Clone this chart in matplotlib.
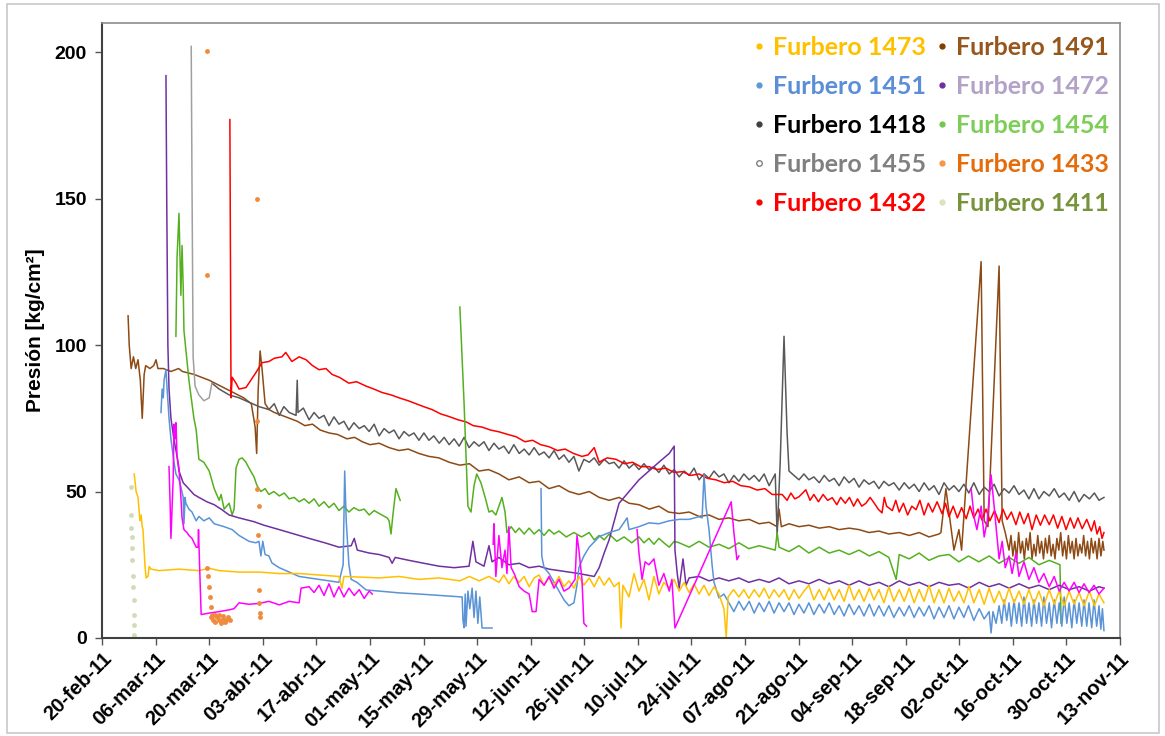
import numpy as np
import matplotlib.pyplot as plt
import matplotlib.dates as mdates
from matplotlib.lines import Line2D
from matplotlib.patches import Rectangle
from datetime import datetime

# ---- data: (days after 20-feb-2011, pressure kg/cm2) ----
start = datetime(2011, 2, 20)

tick_days = list(range(0, 267, 14))
tick_labels = ["20-feb-11", "06-mar-11", "20-mar-11", "03-abr-11", "17-abr-11",
               "01-may-11", "15-may-11", "29-may-11", "12-jun-11", "26-jun-11",
               "10-jul-11", "24-jul-11", "07-ago-11", "21-ago-11", "04-sep-11",
               "18-sep-11", "02-oct-11", "16-oct-11", "30-oct-11", "13-nov-11"]

s1491 = [(6.8, 110), (7.1, 100), (7.6, 92), (8.2, 96), (8.8, 92), (9.4, 95), (10.0, 88),
         (10.5, 75), (11.0, 90), (11.4, 93), (12.5, 92), (13.5, 93), (14.1, 95), (14.6, 92),
         (16, 92), (18, 91), (20, 92), (21, 91), (24, 90), (28, 88), (31, 86), (34, 84),
         (37, 82), (39, 80), (40.0, 72), (40.4, 63), (40.8, 85), (41.3, 98), (41.8, 92),
         (42.6, 80), (43.6, 78), (45, 77), (47, 76), (49, 75), (51, 74), (53, 72.5), (55, 73),
         (57, 71), (59.3, 70), (61.5, 69.5), (64, 68), (66, 68.5), (68, 67), (70, 66),
         (72.4, 66.5), (75, 65), (77.6, 64), (80, 64.5), (82.8, 63), (85.4, 62), (88, 61.5),
         (90.7, 60), (93.5, 59), (96, 59.5), (98.5, 57), (101, 57.5), (103.7, 56), (106.3, 54),
         (109, 55), (111.6, 53), (114.2, 53.5), (116.8, 51), (119.4, 52), (122, 50),
         (124.6, 49), (127.3, 50), (129.9, 48), (132.5, 47), (135.1, 48), (137.7, 46),
         (140.3, 45.5), (143, 44), (145.5, 45), (148, 43), (150.8, 42.5), (153.4, 43),
         (156, 41.5), (158.6, 42), (161.2, 40.5), (163.8, 41), (166.4, 40), (169.1, 40.5),
         (171.7, 39), (174.3, 39.5), (176.4, 38), (176.9, 44), (177.5, 38), (179.5, 39),
         (182.1, 38), (184.7, 38.5), (187.4, 37.5), (190, 38), (192.6, 37), (195.2, 37.5),
         (197.8, 37), (200.4, 36), (203, 36.5), (205.6, 35.5), (208.3, 36), (210.9, 35),
         (213.5, 36), (216.1, 34.5), (218.7, 35.5), (219.2, 36), (220.5, 51), (222.6, 30),
         (223.9, 37), (224.6, 30), (229.7, 128.5), (230.5, 40), (231.5, 38), (234.4, 127),
         (235.2, 40), (236, 36), (237.0, 30), (237.5, 35), (238.0, 28), (238.5, 33),
         (239.0, 27), (239.5, 36), (240.0, 29), (240.5, 33), (241.0, 27), (241.5, 34),
         (242.0, 30), (242.5, 36), (243.0, 27), (243.5, 32), (244.0, 28), (244.5, 35),
         (245.0, 29), (245.5, 33), (246.0, 27), (246.5, 34), (247.0, 29), (247.5, 35),
         (248.0, 28), (248.5, 32), (249.0, 27), (249.5, 34), (250.0, 30), (250.5, 36),
         (251.0, 28), (251.5, 33), (252.0, 27), (252.5, 35), (253.0, 29), (253.5, 33),
         (254.0, 27), (254.5, 34), (255.0, 28), (255.5, 32), (256.0, 29), (256.5, 35),
         (257.0, 28), (257.5, 33), (258.0, 27), (258.5, 34), (259.0, 29), (259.5, 33),
         (260.0, 27), (260.5, 34), (261.0, 28), (261.5, 33), (261.8, 30)]

s1432 = [(33.4, 177), (33.7, 82), (34.0, 89), (35.0, 87), (35.8, 85), (37.6, 85.5),
         (40.2, 90.6), (41.8, 94), (43.6, 94.4), (45.0, 95.5), (47.0, 96), (48.0, 97.5),
         (49.6, 94.4), (51.5, 96), (53.3, 95), (55.0, 93), (56.7, 91.6), (58.5, 92),
         (60.1, 90), (62.0, 89), (64.5, 87), (66.5, 87.5), (69.0, 86), (71.0, 85),
         (73.2, 83.8), (75.5, 83), (77.6, 82), (80.0, 81), (82.0, 80), (84.0, 79),
         (86.2, 78), (88.5, 76.5), (90.7, 75.6), (93.0, 74.5), (95.1, 73.8), (97.0, 72.5),
         (99.3, 72), (101.5, 71), (103.7, 70.4), (106.0, 69.5), (108.2, 68.7), (110.5, 67),
         (112.5, 67.5), (114.6, 66), (116.8, 65.3), (119.0, 64), (121.0, 64.5), (123.2, 63),
         (125.4, 62), (127.0, 62.5), (128.6, 65), (129.9, 60), (132.0, 61.5), (134.3, 61),
         (136.5, 59.5), (138.6, 60), (140.7, 58.5), (142.9, 58.5), (145.0, 57.5),
         (147.3, 58), (149.5, 56.5), (151.6, 56.8), (153.8, 55.5), (156.0, 56),
         (158.2, 54.5), (160.4, 54), (162.6, 53), (164.8, 53.5), (166.9, 52), (169.1, 51.6),
         (171.2, 50.5), (173.2, 51), (175.1, 49), (177.7, 49), (179.0, 47), (180.0, 49.5),
         (181.0, 47.5), (182.1, 48.2), (183.9, 50.6), (185.0, 47), (186.0, 49), (187.2, 46.5),
         (188.4, 49), (189.6, 47), (190.8, 47.9), (192.0, 45.5), (193.0, 48), (194.2, 46),
         (195.3, 48), (196.4, 45), (197.4, 47.5), (198.5, 45), (199.6, 46), (200.7, 48),
         (201.8, 46), (202.8, 44), (203.8, 42.7), (204.4, 48), (205.0, 45), (206.5, 43.5),
         (207.4, 47), (208.3, 43), (209.4, 46), (210.5, 42), (211.6, 45), (212.7, 43.8),
         (213.7, 47), (214.8, 42), (215.9, 46), (217.0, 43), (218.2, 46.5), (219.5, 42.4),
         (220.4, 46), (221.3, 41.4), (222.4, 45), (223.5, 41), (224.6, 44.5), (225.8, 40.7),
         (226.8, 45), (227.8, 41), (228.9, 44), (229.9, 40.3), (231.0, 44), (232.0, 40),
         (233.2, 43.5), (234.4, 39.4), (235.4, 44), (236.5, 40.5), (237.6, 43), (238.8, 38.7),
         (239.8, 43), (240.9, 39), (242.0, 42.5), (243.0, 37), (244.1, 42), (245.2, 38.5),
         (246.3, 42), (247.5, 38.7), (248.6, 42), (249.7, 37.5), (250.8, 41.5), (251.9, 37),
         (253.0, 41), (254.0, 37.5), (255.0, 41), (256.1, 37.3), (257.3, 40.5), (258.5, 36.5),
         (259.3, 40), (260.0, 35.5), (260.7, 38), (261.3, 34), (261.8, 36)]

s1418 = [(28.7, 87), (30.6, 85), (33.2, 83), (35.8, 82), (38.4, 80.5), (41.0, 79),
         (43.6, 78), (45.0, 80), (46.3, 76), (47.5, 79), (48.9, 77), (50.7, 76), (51.0, 88),
         (51.2, 77), (52.6, 78.5), (54.1, 74.5), (55.4, 77), (56.7, 75), (58.0, 76),
         (59.3, 72.5), (60.6, 75.5), (61.9, 73), (63.2, 74), (64.5, 71), (65.8, 73.5),
         (67.2, 71.5), (68.5, 72.5), (69.8, 70.5), (71.1, 73), (72.4, 69), (73.7, 71.5),
         (75.0, 70), (76.3, 71), (77.6, 68), (78.9, 70.5), (80.2, 69), (81.5, 70),
         (82.8, 67.5), (84.1, 70), (85.4, 67.5), (86.7, 69), (88.1, 66.5), (89.4, 68.5),
         (90.7, 66), (92.0, 68), (93.3, 65.5), (94.6, 68.5), (95.9, 65), (97.2, 67),
         (98.5, 65.5), (99.8, 67), (101.1, 64), (102.4, 66.5), (103.7, 64.5), (105.0, 65.5),
         (106.3, 63), (107.6, 66), (109.0, 63), (110.3, 64.5), (111.6, 62.5), (112.9, 65),
         (114.2, 62.5), (115.5, 63.5), (116.8, 61.5), (118.1, 64), (119.4, 61), (120.7, 62.5),
         (122.0, 60), (123.3, 62), (124.6, 57), (125.9, 61), (127.3, 60), (128.6, 61.5),
         (129.9, 59), (131.2, 61), (132.5, 59.5), (133.8, 60), (135.1, 58), (136.4, 60.5),
         (137.7, 58), (139.0, 59.5), (140.3, 57.5), (141.6, 59.5), (142.9, 57.5), (144.2, 58.5),
         (145.5, 56.5), (146.8, 59), (148.2, 56), (149.5, 57.5), (150.8, 55), (152.1, 57),
         (153.4, 55.5), (154.7, 58), (156.0, 54), (157.3, 56), (158.6, 54.5), (159.9, 57),
         (161.2, 55), (162.5, 56), (163.8, 53), (165.1, 55.5), (166.4, 53.5), (167.7, 56),
         (169.1, 54), (170.4, 55.5), (171.7, 53.5), (173.0, 56), (174.3, 52), (175.9, 56),
         (176.4, 35), (177.2, 60), (178.2, 103), (179.0, 70), (179.5, 57), (180.8, 55.5),
         (182.1, 54), (183.4, 56), (184.7, 54), (186.0, 55), (187.4, 53), (188.7, 55.5),
         (190.0, 53.5), (191.3, 54.5), (192.6, 52), (193.9, 55), (195.2, 53), (196.5, 54.5),
         (197.8, 51.5), (199.1, 54), (200.4, 52.5), (201.7, 53.5), (203.0, 51), (204.3, 53.5),
         (205.6, 52), (206.9, 53), (208.3, 50.5), (209.6, 53), (210.9, 51), (212.2, 52.5),
         (213.5, 50), (214.8, 53), (216.1, 50.5), (217.4, 52), (218.7, 49), (220.0, 53),
         (221.3, 50.5), (222.6, 52), (223.9, 50), (225.2, 52.5), (226.5, 49.5), (227.8, 53),
         (229.2, 49), (230.5, 51.5), (231.8, 50), (233.1, 52.5), (234.4, 48.5), (235.7, 51),
         (237.0, 49.5), (238.3, 52), (239.6, 49), (240.9, 50.5), (242.2, 47.5), (243.5, 51),
         (244.8, 47.5), (246.1, 50), (247.5, 48.5), (248.8, 51), (250.1, 48), (251.4, 49.5),
         (252.7, 47), (254.0, 50), (255.3, 46.5), (256.6, 49), (258.0, 47.5), (259.3, 49.5),
         (260.5, 47), (261.8, 48)]

s1455 = [(23.3, 202), (23.5, 156), (23.8, 96), (24.3, 86), (25.3, 83), (26.6, 81),
         (28.0, 82), (28.7, 87)]

s1454 = [(19.3, 103), (19.6, 130), (20.1, 145), (20.4, 128), (20.6, 117), (20.9, 134),
         (21.2, 120), (21.4, 105), (22.7, 88), (24.0, 75), (24.6, 71), (25.3, 61),
         (26.6, 60), (28.0, 57), (29.3, 51), (30.6, 47), (31.1, 49), (31.9, 44), (33.2, 46),
         (34.0, 42), (34.5, 44), (35.0, 58), (35.8, 61), (36.6, 61.5), (37.6, 60),
         (38.4, 58), (39.7, 55), (40.5, 52), (41.5, 50), (42.6, 51), (43.6, 49), (44.9, 50),
         (46.3, 48.5), (47.6, 49.5), (48.9, 47.5), (50.2, 48), (51.5, 46.5), (52.8, 47.5),
         (54.1, 46), (55.4, 47.5), (56.7, 45), (58.0, 46.5), (59.3, 44.5), (60.6, 46),
         (61.9, 43.5), (63.2, 45), (64.5, 43), (65.8, 44.5), (67.2, 43.5), (68.5, 44),
         (69.8, 42), (71.1, 43.5), (72.4, 42.5), (74.5, 41), (75.0, 40), (75.5, 35.5),
         (76.0, 42), (76.8, 51), (77.9, 47),
         (np.nan, np.nan),
         (93.5, 113), (94.6, 80), (95.6, 45), (96.4, 43), (97.2, 52), (97.9, 56), (99.0, 53),
         (100.1, 48), (101.1, 43), (101.9, 43.5), (102.9, 42), (104.5, 48), (105.3, 43),
         (105.8, 36), (106.9, 38), (108.0, 36), (109.0, 37.5), (110.3, 35.5), (111.6, 37.5),
         (112.9, 35.5), (114.2, 37), (115.5, 35), (116.8, 37), (118.1, 35.5), (119.4, 36.5),
         (121.3, 34.5), (123.3, 36), (125.3, 34.5), (127.3, 36), (128.6, 33.5), (129.9, 35),
         (131.2, 33.5), (132.5, 35.5), (134.5, 33), (136.4, 34.5), (138.4, 32.5), (140.3, 34.5),
         (141.6, 32.5), (142.9, 34), (144.2, 32), (145.5, 34), (146.8, 32.5), (148.2, 31),
         (149.5, 33), (150.8, 32.5), (153.4, 31), (156.0, 33), (158.6, 31), (161.2, 32),
         (163.8, 30.5), (166.4, 32.5), (169.0, 30.5), (171.7, 31.5), (175.9, 30), (176.4, 36),
         (176.9, 31), (179.5, 29.5), (182.1, 31.5), (184.7, 29), (187.4, 31), (190.0, 29),
         (192.6, 30), (195.2, 28.5), (197.8, 30), (200.5, 28), (203.0, 29.5), (205.6, 27.5),
         (207.5, 20), (208.3, 28.5), (210.9, 27), (213.5, 29), (216.1, 26.5), (218.7, 28),
         (221.3, 28.5), (223.9, 26), (226.4, 28), (229.1, 26), (231.8, 28), (234.4, 25.5),
         (237.0, 27.5), (239.6, 25.5), (242.2, 27.5), (244.8, 25), (247.5, 26.5),
         (250.3, 25), (250.6, 5)]

s1472 = [(16.7, 192), (16.9, 150), (17.2, 100), (17.5, 85), (18.0, 75), (18.8, 67.7),
         (19.6, 62), (20.1, 57), (21.2, 53), (22.2, 51.6), (24.0, 49), (25.3, 48),
         (27.4, 46.5), (29.3, 45.5), (31.1, 44), (33.2, 42), (35.8, 41), (39.7, 39.7),
         (42.3, 38.5), (46.3, 37), (50.2, 35.5), (54.1, 34), (58.2, 32.5), (61.9, 31),
         (65.1, 31.5), (65.9, 34), (66.7, 30), (69.8, 29), (72.4, 28.5), (75.0, 27.5),
         (75.8, 25.5), (76.6, 27.5), (80.2, 26.5), (84.1, 25.5), (88.1, 24.5), (92.0, 24),
         (95.9, 24.5), (96.9, 33), (97.7, 26), (99.8, 24.5), (101.1, 31.5), (101.9, 26),
         (103.7, 27.5), (106.3, 25), (109.0, 25.5), (111.6, 24), (114.2, 24.5), (116.8, 23.5),
         (119.4, 23), (122.0, 22.5), (124.6, 22), (128.6, 21), (129.9, 24), (131.2, 29),
         (132.5, 33.5), (135.1, 46), (137.7, 50), (140.3, 54), (142.9, 57), (145.5, 60),
         (148.2, 63), (149.5, 65.5), (149.7, 30), (150.3, 22), (150.8, 17), (151.8, 27),
         (152.6, 18), (153.4, 20.5), (156.0, 21), (158.6, 19.5), (161.2, 20.5), (163.8, 19.5),
         (166.4, 20.5), (169.0, 19), (171.7, 20), (174.3, 19), (176.9, 20.5), (179.5, 18.5),
         (182.1, 19.5), (184.7, 18.5), (187.4, 20), (190.0, 18.5), (192.6, 19.5), (195.2, 18),
         (197.8, 19.5), (200.4, 18), (203.0, 19), (205.6, 17.5), (208.3, 19.5), (210.9, 18),
         (213.5, 19), (216.1, 17.5), (218.7, 19), (221.3, 18), (223.9, 18.5), (226.5, 17),
         (229.2, 19), (231.8, 17.5), (234.4, 18.5), (237.0, 17), (239.6, 18.5), (242.2, 17),
         (244.8, 18), (247.5, 16.5), (250.1, 18), (252.7, 16.5), (255.3, 17.5), (258.0, 16),
         (260.5, 17.5), (261.8, 17)]

s1451 = [(15.4, 77), (15.7, 85), (16.0, 82), (16.2, 88), (16.7, 91.6), (17.0, 85),
         (17.5, 75), (18.0, 68), (18.8, 60), (19.3, 56), (20.1, 54), (20.6, 51.6),
         (21.2, 48), (21.4, 39), (21.7, 48), (21.9, 46), (22.7, 44), (23.5, 43), (24.6, 40),
         (25.3, 41.5), (26.6, 40), (28.0, 41), (29.3, 39), (30.6, 38.5), (31.9, 38),
         (34.0, 37), (35.8, 35), (38.4, 33), (40.2, 32.5), (41.0, 33), (41.5, 28), (42.0, 33),
         (42.6, 28.5), (43.6, 28), (44.4, 25.6), (46.3, 24), (48.9, 22.5), (51.5, 21),
         (54.1, 20.5), (56.7, 20), (59.3, 19.5), (61.9, 19), (63.0, 25), (63.4, 57),
         (63.8, 40), (64.5, 25), (65.1, 20), (66.6, 19), (69.0, 16.4), (72.4, 16),
         (77.6, 15.4), (82.8, 15), (86.2, 14.7), (90.7, 14.3), (94.1, 14), (94.3, 6),
         (94.6, 3.5), (94.9, 15), (95.1, 4), (95.6, 16), (96.1, 10), (96.7, 17), (97.2, 7),
         (97.7, 16), (98.2, 5), (98.7, 14), (99.3, 3.4), (101.9, 3.4),
         (np.nan, np.nan),
         (114.7, 51), (114.9, 28), (115.5, 24), (116.8, 22), (118.1, 19), (119.4, 16),
         (120.7, 13), (122.0, 11), (123.3, 12), (124.1, 18), (124.6, 24), (125.9, 28),
         (127.3, 31), (129.9, 34.6), (132.5, 36), (135.1, 37), (137.2, 41), (137.7, 37),
         (140.3, 38), (142.9, 39.3), (145.5, 39), (148.2, 40), (150.8, 40.5), (153.4, 40.5),
         (156.0, 41.4), (156.8, 41), (157.3, 56), (157.8, 45), (158.6, 37), (159.4, 25),
         (159.9, 19), (161.2, 13.7), (162.5, 15), (163.8, 12), (165.1, 9), (166.4, 12.5),
         (167.7, 9.5), (169.1, 12.5), (170.4, 8.5), (171.7, 12), (173.0, 9), (174.3, 12.5),
         (175.6, 8.5), (176.9, 12), (178.2, 9), (179.5, 12), (180.8, 8), (182.1, 11.5),
         (183.4, 8.5), (184.7, 12), (186.0, 8), (187.4, 11.5), (188.7, 8.5), (190.0, 12),
         (191.3, 8), (192.6, 11), (193.9, 7.5), (195.2, 11.5), (196.5, 8), (197.8, 11),
         (199.1, 7.5), (200.5, 11.5), (201.7, 7.5), (203.0, 11), (204.3, 7.5), (205.6, 11),
         (206.9, 7), (208.3, 10.5), (209.6, 7.5), (210.9, 11), (212.2, 7), (213.5, 10.5),
         (214.8, 7.5), (216.1, 11), (217.4, 6.5), (218.7, 10.5), (220.0, 7), (221.3, 11),
         (222.6, 6.5), (223.9, 10.5), (225.2, 7), (226.4, 11), (227.8, 6), (229.2, 10),
         (230.5, 6.5), (231.8, 9), (232.3, 1.7), (232.8, 9), (233.6, 5), (234.4, 11),
         (235.1, 5), (235.7, 13), (236.4, 6), (237.0, 12), (237.6, 4), (238.3, 13),
         (239.0, 5), (239.6, 12), (240.3, 4), (240.9, 14), (241.6, 5), (242.2, 12),
         (242.9, 4), (243.5, 13), (244.2, 5), (244.8, 12), (245.5, 4), (246.1, 14),
         (246.8, 5), (247.5, 12), (248.1, 3.5), (248.8, 13), (249.5, 5), (250.1, 12),
         (250.8, 4), (251.4, 14), (252.1, 5), (252.7, 12), (253.4, 3.5), (254.0, 13),
         (254.7, 5), (255.3, 12), (256.0, 4), (256.6, 13), (257.3, 4), (257.9, 12),
         (258.6, 3.5), (259.2, 13), (259.9, 4), (260.5, 11), (261.0, 3), (261.4, 10),
         (261.8, 2.5)]

s1473 = [(8.4, 56), (8.9, 50), (9.4, 48), (9.9, 40), (10.2, 42), (10.5, 38), (10.7, 37),
         (11.2, 25), (11.5, 20.5), (12.0, 21), (12.3, 24.4), (12.8, 23.5), (14.9, 23),
         (20.1, 23.5), (25.3, 23), (28.0, 23.8), (30.6, 23), (35.8, 22.5), (41.0, 22.5),
         (46.3, 22), (51.5, 22), (56.7, 21.5), (61.9, 21), (62.7, 17), (63.2, 21),
         (67.2, 20.8), (72.4, 20.5), (77.6, 21), (82.8, 20), (88.1, 20.5), (93.5, 19.5),
         (96.0, 21), (98.5, 19.5), (101.1, 21), (103.7, 19), (105.0, 21.5), (106.3, 18.5),
         (107.6, 21), (109.0, 19), (110.3, 21), (111.6, 17.5), (112.9, 20.5), (114.2, 21.5),
         (115.5, 18), (116.8, 20.5), (118.1, 18), (119.4, 21), (120.7, 17.5), (122.0, 19.5),
         (123.3, 17), (124.6, 21), (125.9, 18), (127.3, 20.5), (128.6, 17.5), (129.9, 21),
         (131.2, 18), (132.5, 20.5), (133.8, 17.5), (135.1, 19), (135.6, 3.4), (136.1, 18),
         (137.7, 14), (139.0, 22), (140.3, 16), (141.6, 20), (142.9, 13), (144.2, 21),
         (145.5, 15), (146.8, 19), (148.2, 17), (149.5, 20), (150.8, 16), (152.1, 19),
         (153.4, 15.5), (154.7, 18.5), (156.0, 15), (157.3, 18), (158.6, 14.5), (159.9, 17.5),
         (161.2, 15), (162.5, 10), (163.1, 0.3), (163.6, 14), (165.0, 16.5), (166.4, 14),
         (167.7, 16.5), (169.0, 13.5), (170.4, 16.5), (171.7, 14), (173.0, 17), (174.3, 13.5),
         (175.6, 16.5), (176.9, 14), (178.2, 16.5), (179.5, 13), (180.8, 16.5), (182.1, 13.5),
         (183.4, 16), (184.7, 18), (186.0, 13), (187.4, 16.5), (188.7, 13), (190.0, 17),
         (191.3, 13), (192.6, 16.5), (193.9, 12.5), (195.2, 18), (196.5, 13), (197.8, 16.5),
         (199.1, 12.5), (200.5, 17), (201.7, 13), (203.0, 16.5), (204.3, 12), (205.6, 17.5),
         (206.9, 12.5), (208.3, 16.5), (209.6, 12.5), (210.9, 17), (212.2, 12), (213.5, 16.5),
         (214.8, 12.5), (216.1, 18), (217.4, 12), (218.7, 16.5), (220.0, 12), (221.3, 17),
         (222.6, 12.5), (223.9, 16), (225.2, 12), (226.5, 17.5), (227.8, 12), (229.2, 16.5),
         (230.5, 11.5), (231.8, 17), (233.1, 12), (234.4, 16), (235.7, 11.5), (237.0, 17),
         (238.3, 12), (239.6, 16), (240.9, 11.5), (242.2, 16.5), (243.5, 11.5), (244.8, 16),
         (246.1, 11), (247.5, 16.5), (248.8, 11.5), (250.1, 16), (251.4, 11), (252.7, 16),
         (254.0, 11.5), (255.3, 15.5), (256.6, 11), (258.0, 16), (259.3, 11), (260.5, 15),
         (261.8, 12)]

s_magenta = [(17.5, 58.5), (17.8, 45), (18.0, 34), (18.6, 55), (18.8, 73), (19.1, 68),
             (19.3, 73.5), (19.6, 62), (20.1, 58), (20.6, 48), (20.9, 41), (21.4, 37),
             (22.2, 36), (22.7, 35), (23.5, 34), (24.6, 31), (25.1, 31), (25.2, 37), (25.6, 20),
             (25.9, 8), (28.0, 8.5), (30.6, 9), (33.2, 9.6), (34.5, 10), (35.8, 12),
             (38.4, 11.5), (41.0, 11.8), (43.6, 12.5), (46.3, 11.3), (48.9, 12.5), (51.5, 12),
             (52.0, 17), (54.1, 17.5), (55.4, 15.5), (56.7, 18), (58.0, 14.5), (59.3, 18.5),
             (60.6, 14), (61.9, 17.5), (63.2, 14), (64.5, 17), (65.9, 14.5), (67.2, 16.5),
             (68.5, 13.5), (69.8, 16), (70.6, 15),
             (np.nan, np.nan),
             (102.2, 32), (102.4, 39), (102.9, 21), (103.7, 35), (104.5, 24), (105.3, 30),
             (105.8, 22), (106.3, 38), (106.9, 24), (107.7, 22), (109.0, 17.5), (110.3, 16),
             (111.6, 15), (112.4, 9), (113.4, 9), (114.2, 20), (115.5, 18), (116.8, 21),
             (118.1, 17), (119.4, 20), (120.7, 16), (122.0, 17), (123.6, 20), (124.1, 35),
             (124.6, 30), (125.4, 20), (125.9, 5), (126.6, 4),
             (np.nan, np.nan),
             (139.8, 37), (140.3, 29), (141.1, 20), (141.9, 26), (142.9, 25), (144.2, 27),
             (145.5, 18), (146.8, 22), (148.2, 16), (148.9, 20), (149.7, 3.4), (164.4, 46.5),
             (165.1, 36), (165.9, 26.7), (166.4, 28),
             (np.nan, np.nan),
             (227.1, 51), (227.9, 41), (228.6, 37), (229.7, 45), (230.5, 34.5), (231.3, 40),
             (232.3, 55.7), (233.1, 45), (234.4, 27), (235.2, 33), (236.0, 24), (237.0, 28),
             (237.8, 22), (238.8, 29), (239.6, 21), (240.9, 26), (242.2, 20), (243.5, 24),
             (244.8, 19), (246.1, 22), (247.5, 17.5), (248.8, 21), (250.1, 16), (251.4, 19),
             (252.7, 16), (254.0, 19), (255.3, 15.5), (256.6, 18.5), (257.9, 15.5),
             (259.2, 18), (260.5, 15), (261.8, 17)]

s1433 = [(27.4, 200.5), (27.4, 124), (40.5, 150), (27.4, 24), (27.8, 21), (28.0, 17.5),
         (28.2, 14), (28.5, 10.6), (28.7, 8), (28.5, 7), (29.0, 6), (29.5, 5.5), (30.0, 7),
         (30.5, 6), (31.0, 5), (31.5, 6.5), (32.0, 5.5), (32.5, 6), (33.0, 7), (33.5, 6),
         (29.5, 8), (30.5, 8), (31.5, 7.5), (40.5, 74), (40.5, 51), (41.0, 45), (40.8, 35),
         (41.0, 16.4), (41.0, 12), (41.3, 8.5), (41.3, 7)]

s1411 = [(7.6, 51.6), (7.6, 42), (7.6, 37.6), (7.8, 34.5), (7.8, 30.8), (7.8, 26.7),
         (8.1, 21), (8.1, 17.5), (8.4, 13), (8.4, 8), (8.4, 4.4), (8.4, 1)]

legend_names = ["Furbero 1473", "Furbero 1451", "Furbero 1418", "Furbero 1455", "Furbero 1432",
                "Furbero 1491", "Furbero 1472", "Furbero 1454", "Furbero 1433", "Furbero 1411"]
marker_colors = ["#FFC000", "#5B9BD5", "#404040", "#808080", "#FF0000",
                 "#7F3F00", "#7030A0", "#70C850", "#F79646", "#D7E4BD"]
text_colors = ["#FFC000", "#5B8ED6", "#000000", "#808080", "#FF0000",
               "#97561C", "#B3A2C7", "#7DCE58", "#E46C0A", "#77933C"]

base = mdates.date2num(start)


def xy(pts):
    a = np.array(pts, dtype=float)
    return base + a[:, 0], a[:, 1]


fig = plt.figure(figsize=(11.65, 7.36), dpi=100)
ax = fig.add_axes([0.0876, 0.1332, 0.8738, 0.8356])

lw = 1.1
for pts, c in [(s1491, "#8E4A14"), (s1418, "#595959"), (s1455, "#A0A0A0"),
               (s1432, "#FF0000"), (s1454, "#55B020"), (s1472, "#7030A0"),
               (s1451, "#5A93D6"), (s1473, "#FFC000"), (s_magenta, "#FF00FF")]:
    x, y = xy(pts)
    ax.plot(x, y, color=c, lw=lw)

x, y = xy(s1433)
ax.plot(x, y, 'o', color="#F08A3C", ms=3.5, mew=0)
x, y = xy(s1411)
ax.plot(x, y, 'o', color="#D0DDBA", ms=3.5, mew=0)

ax.set_xlim(base, base + 266)
ax.set_ylim(0, 210)
ax.set_xticks([base + d for d in tick_days])
ax.set_xticklabels(tick_labels, rotation=45, ha='right', rotation_mode='anchor',
                   fontsize=14.5, fontweight='bold', family='Liberation Sans')
ax.set_yticks([0, 50, 100, 150, 200])
ax.set_yticklabels(["0", "50", "100", "150", "200"], fontsize=14, fontweight='bold',
                   family='Liberation Sans')
ax.tick_params(axis='x', direction='out', length=5, width=1, color='#555555', pad=3)
ax.tick_params(axis='y', direction='out', length=5, width=1, color='#555555', pad=6)

for s in ['left', 'bottom']:
    ax.spines[s].set_color('#404040')
    ax.spines[s].set_linewidth(1.5)
for s in ['top', 'right']:
    ax.spines[s].set_color('#8C8C8C')
    ax.spines[s].set_linewidth(1.2)

ax.set_ylabel("Presión [kg/cm²]", fontsize=15, fontweight='bold', family='Liberation Sans')
ax.yaxis.set_label_coords(-0.056, 0.5)

handles = []
for i, c in enumerate(marker_colors):
    if i == 3:
        handles.append(Line2D([], [], marker='o', ls='none', ms=4, mfc='white', mec=c, mew=1))
    else:
        handles.append(Line2D([], [], marker='o', ls='none', ms=3.5, color=c))
ax.legend(handles, legend_names, ncol=2, loc='upper right', frameon=False,
          labelcolor=text_colors, prop={'family': 'Lato', 'weight': 'bold', 'size': 18},
          labelspacing=0.64, handletextpad=0.15, columnspacing=0.25, handlelength=0.8,
          bbox_to_anchor=(1.005, 1.006), borderaxespad=0.25)

fig.patches.append(Rectangle((0.006, 0.004), 0.989, 0.99, transform=fig.transFigure,
                             fill=False, edgecolor='#C8C8C8', lw=1.2))

plt.savefig("out.png", dpi=100)
